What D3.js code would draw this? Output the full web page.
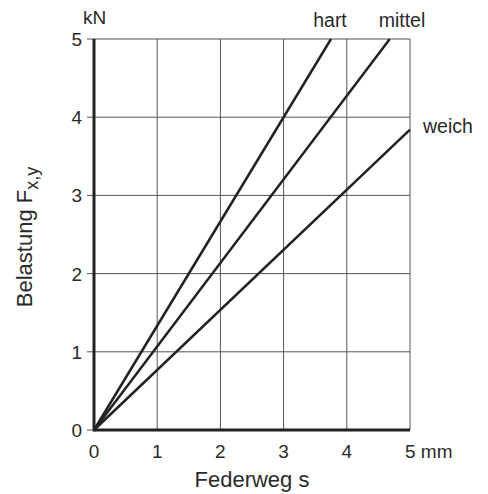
<!DOCTYPE html>
<html>
<head>
<meta charset="utf-8">
<script src="https://cdn.jsdelivr.net/npm/d3@7"></script>
<style>
  body { margin: 0; background: #fff; }
  text { font-family: "Liberation Sans", Arial, sans-serif; fill: #2a2a2a; }
</style>
</head>
<body>
<svg></svg>
<script>
// Federkennlinien: Weg s (mm) -> Belastung (kN)
const springs = ['hart', 'mittel', 'weich'];
const endS = [3.75, 4.68, 5];
const endF = [5, 5, 3.84];
const xTicks = [0, 1, 2, 3, 4, 5];
const yTicks = [0, 1, 2, 3, 4, 5];

const [width, height] = [488, 494];
const margin = {left: 94, right: 78, top: 39, bottom: 64};

const svg = d3.select('svg')
    .attr('width', width)
    .attr('height', height);

const x = d3.scaleLinear().domain([0, 5]).range([margin.left, width - margin.right]);
const y = d3.scaleLinear().domain([0, 5]).range([height - margin.bottom, margin.top]);

// Gitter
svg.append('g')
    .selectAll('line')
    .data(xTicks.slice(1))
    .enter()
    .append('line')
    .attr('x1', d => x(d)).attr('x2', d => x(d))
    .attr('y1', y(0)).attr('y2', y(5))
    .style('stroke', '#555')
    .style('stroke-width', '1px');

svg.append('g')
    .selectAll('line')
    .data(yTicks.slice(1))
    .enter()
    .append('line')
    .attr('x1', x(0) - 7).attr('x2', x(5))
    .attr('y1', d => y(d)).attr('y2', d => y(d))
    .style('stroke', '#555')
    .style('stroke-width', '1px');

// Achsen
svg.append('line')
    .attr('x1', x(0)).attr('x2', x(0))
    .attr('y1', y(0) + 1.5).attr('y2', y(5))
    .style('stroke', '#222').style('stroke-width', '3px');
svg.append('line')
    .attr('x1', x(0)).attr('x2', x(5))
    .attr('y1', y(0)).attr('y2', y(0))
    .style('stroke', '#222').style('stroke-width', '3px');
svg.append('line')
    .attr('x1', x(0) - 7).attr('x2', x(0))
    .attr('y1', y(0)).attr('y2', y(0))
    .style('stroke', '#555').style('stroke-width', '1px');

// Tick-Beschriftung
svg.append('g')
    .selectAll('text')
    .data(yTicks)
    .enter()
    .append('text')
    .attr('x', x(0) - 12)
    .attr('y', d => y(d) + 7)
    .attr('text-anchor', 'end')
    .style('font-size', '19px')
    .text(d => d);

svg.append('g')
    .selectAll('text')
    .data(xTicks)
    .enter()
    .append('text')
    .attr('x', d => x(d))
    .attr('y', y(0) + 28)
    .attr('text-anchor', 'middle')
    .style('font-size', '19px')
    .text(d => d === 5 ? '' : d);

svg.append('text')
    .attr('x', x(5) - 5)
    .attr('y', y(0) + 28)
    .style('font-size', '19px')
    .text('5 mm');

svg.append('text')
    .attr('x', x(0) - 11)
    .attr('y', 24)
    .style('font-size', '19px')
    .text('kN');

// Kennlinien
const line = d3.line().x(d => x(d[0])).y(d => y(d[1]));
svg.append('g')
    .selectAll('path')
    .data(springs.map((s, i) => [[0, 0], [endS[i], endF[i]]]))
    .enter()
    .append('path')
    .attr('d', line)
    .style('fill', 'none')
    .style('stroke', '#222')
    .style('stroke-width', '2.5px');

// Linienbeschriftung
const labelPos = [[330, 27], [402, 27], [423, 133]];
svg.append('g')
    .selectAll('text')
    .data(springs)
    .enter()
    .append('text')
    .attr('x', (d, i) => labelPos[i][0])
    .attr('y', (d, i) => labelPos[i][1])
    .attr('text-anchor', (d, i) => i === 2 ? 'start' : 'middle')
    .style('font-size', '19.5px')
    .text(d => d);

// Achsentitel
svg.append('text')
    .attr('x', (x(0) + x(5)) / 2)
    .attr('y', 487)
    .attr('text-anchor', 'middle')
    .style('font-size', '22px')
    .text('Federweg s');

const yTitle = svg.append('text')
    .attr('transform', `translate(${[32, 237]}) rotate(-90)`)
    .attr('text-anchor', 'middle')
    .style('font-size', '22px');
yTitle.append('tspan').text('Belastung F');
yTitle.append('tspan').attr('dy', 6).style('font-size', '18px').text('x,y');
</script>
</body>
</html>
